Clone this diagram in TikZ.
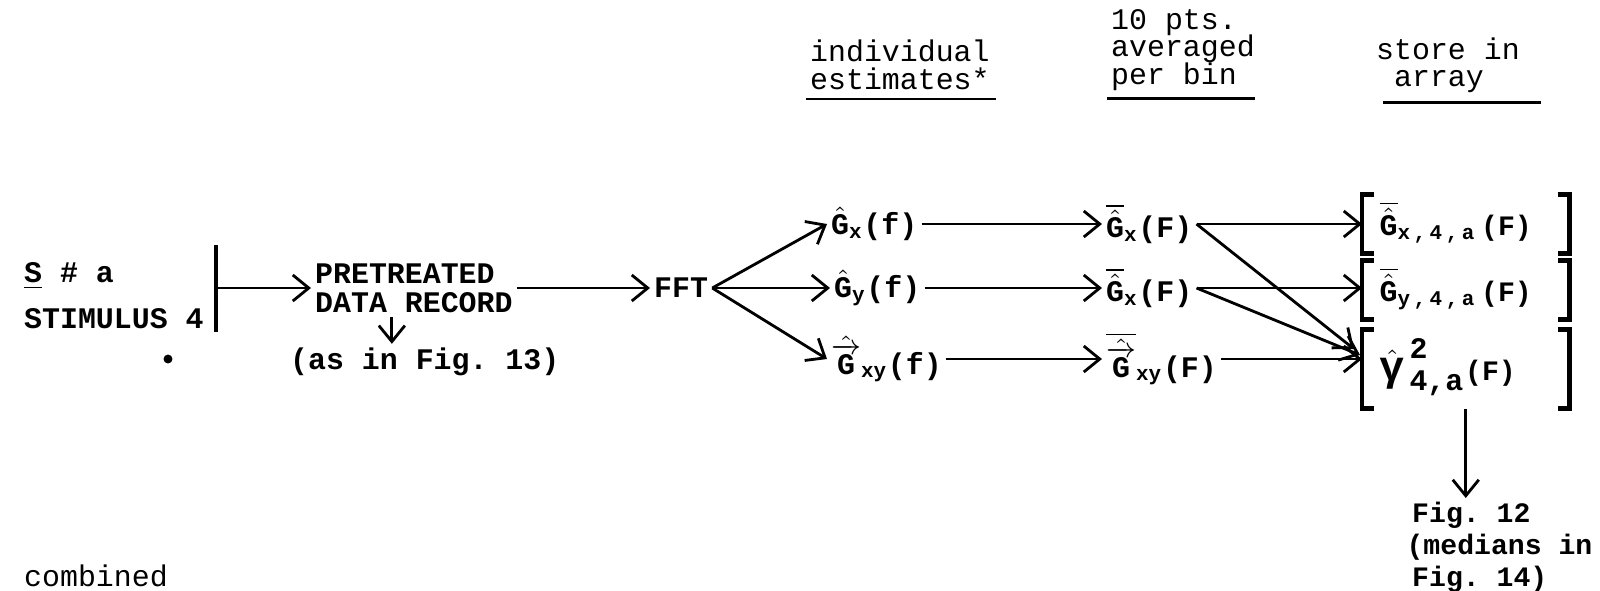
\documentclass[tikz,border=0pt]{standalone}
\usepackage{amsmath}
\usepackage{fontspec}
\setmonofont{Liberation Mono}
\usetikzlibrary{arrows.meta,positioning}

\newcommand{\est}[1]{\hat{\text{#1}}}
\newcommand{\avg}[1]{\overline{\hat{\text{#1}}}}
\newcommand{\crs}{\hat{\overrightarrow{\text{G}}}}
\newcommand{\tightskip}{\lineskiplimit=-10pt\relax}

\begin{document}
\begin{tikzpicture}[
    x=0.01cm, y=-0.01cm,
    every node/.style={inner sep=1pt, font=\fontsize{8.5}{8.5}\selectfont\ttfamily\bfseries},
    lbl/.style={anchor=west},
    head/.style={anchor=west, align=left, font=\fontsize{8.5}{7.8}\selectfont\ttfamily\tightskip},
    arr/.style={anchor=west, text height=0.4cm, text depth=0.17cm, inner ysep=0pt, text width=1.72cm, inner xsep=0.17cm},
    flow/.style={-{Straight Barb[length=1.6mm,width=2.6mm]}, line width=0.8pt},
    brk/.style={line width=1.4pt},
    rule/.style={line width=0.8pt}
]
    \useasboundingbox (0,0) rectangle (1600,590);

    % headers
    \node[head] (hind) at (806,65) {individual\\estimates*};
    \node[head] (havg) at (1107,50) {10 pts.\\averaged\\per bin};
    \node[head] (hsto) at (1372,65) {store in\\\hphantom{s}array};
    \draw[rule] (hind.south west) ++(0,5) -- ++(190,0);
    \draw[rule] (havg.south west) ++(0,4) -- ++(148,0);
    \draw[rule] (hsto.south west) ++(11,6) -- ++(158,0);

    % input
    \node[lbl] (subj) at (20,276) {\underline{S} \# a};
    \node[lbl] (stim) at (20,319) {STIMULUS 4};
    \node[head] (comb) at (20,576) {combined};
    \node[circle, fill, inner sep=0.9pt] (speck) at (168,359) {};
    \draw[brk] (216,245) -- (216,332);
    \coordinate (bar) at (216,288);

    \node[lbl, align=left, font=\fontsize{8.5}{8.2}\selectfont\ttfamily\bfseries] (pre) at (311,288) {PRETREATED\\DATA RECORD};
    \node[lbl] (fig13) at (286,362) {(as in Fig.~13)};
    \node[lbl] (fft) at (650,288) {FFT};

    % individual estimates
    \node[lbl] (gx) at (827,224) {$\est{G}_{\text{x}}$(f)};
    \node[lbl] (gy) at (830,288) {$\est{G}_{\text{y}}$(f)};
    \node[lbl] (gxy) at (827,359) {$\crs_{\text{xy}}$(f)};

    % averaged per bin
    \node[lbl] (gxa) at (1102,224) {$\avg{G}_{\text{x}}$(F)};
    \node[lbl] (gya) at (1102,288) {$\avg{G}_{\text{x}}$(F)};
    \node[lbl] (gxya) at (1102,359) {$\overline{\crs}_{\text{xy}}$(F)};

    % array
    \node[arr] (arx) at (1362,224) {$\avg{G}_{\text{x\,,\,4\,,\,a}}$\,{\footnotesize(F)}};
    \node[arr] (ary) at (1362,290) {$\avg{G}_{\text{y\,,\,4\,,\,a}}$\,{\footnotesize(F)}};
    \node[arr, text height=0.5cm, text depth=0.28cm] (arg) at (1362,369) {$\hat{\text{\large γ}}^{\,\textstyle\text{2}}_{\,\textstyle\text{4,a}}${\footnotesize(F)}};
    \foreach \n in {arx,ary,arg}
        \draw[brk] (\n.north west) ++(12,0) -- (\n.north west) -- (\n.south west) -- ++(12,0)
                   (\n.north east) ++(-12,0) -- (\n.north east) -- (\n.south east) -- ++(-12,0);

    \node[anchor=north west, align=left, font=\fontsize{8}{9.1}\selectfont\ttfamily\bfseries] (fig12) at (1408,498) {Fig.~12\\\hspace*{-0.2em}(medians in\\Fig.~14)};

    % connectors
    \draw[flow] (bar) -- (pre.west);
    \draw[flow] ([xshift=-0.22cm]pre.south) -- ([xshift=-0.22cm]pre.south |- fig13.north);
    \draw[flow] (pre.east) -- (fft.west);
    \draw[flow] (fft.east) -- (gx.west);
    \draw[flow] (fft.east) -- (gy.west);
    \draw[flow] (fft.east) -- (gxy.west);
    \draw[flow] (gx.east) -- (gx.east -| gxa.west);
    \draw[flow] (gy.east) -- (gy.east -| gya.west);
    \draw[flow] (gxy.east) -- (gxy.east -| gxya.west);
    \draw[flow] (gxa.east) -- (gxa.east -| arx.west);
    \draw[flow] (gya.east) -- (gya.east -| ary.west);
    \draw[flow] (gxya.east) -- (gxya.east -| arg.west);
    \draw[flow] (gxa.east) -- ([shift={(-8,-20)}]arg.west);
    \draw[flow] (gya.east) -- ([shift={(-2,-14)}]arg.west);
    \draw[flow] (arg.south) -- (arg.south |- fig12.north);
\end{tikzpicture}
\end{document}
